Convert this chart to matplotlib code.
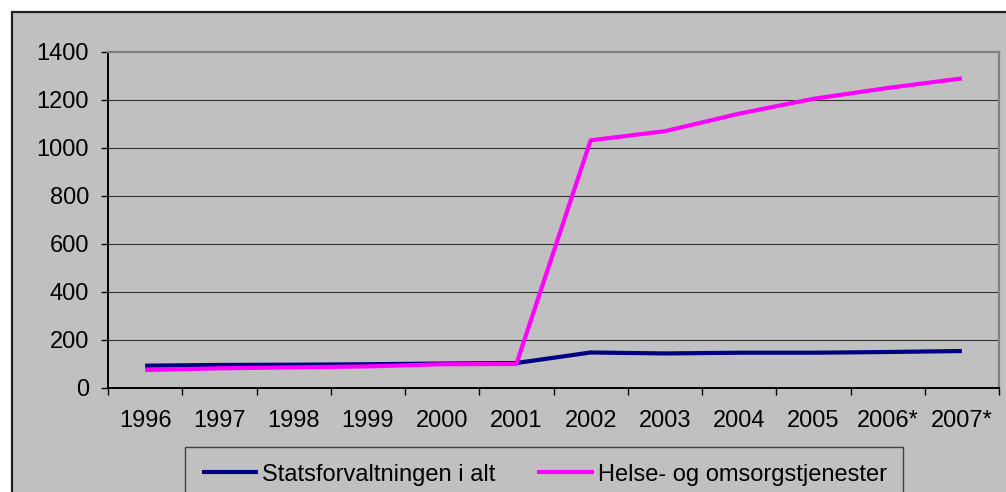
import matplotlib
matplotlib.use("Agg")
import matplotlib.pyplot as plt
from matplotlib.patches import Rectangle

years = ["1996", "1997", "1998", "1999", "2000", "2001",
         "2002", "2003", "2004", "2005", "2006*", "2007*"]
stats = [93, 96, 97, 99, 102, 104, 148, 144, 147, 147, 150, 154]
helse = [75, 82, 86, 90, 99, 100, 1032, 1070, 1143, 1205, 1250, 1290]
yticks = [0, 200, 400, 600, 800, 1000, 1200, 1400]

plt.rcParams['font.family'] = ['Liberation Sans', 'DejaVu Sans']
FS = 17

W, H = 1006, 492
fig = plt.figure(figsize=(W / 100, H / 100), dpi=100, facecolor='white')

# chart area background with border (extends beyond the image on right/bottom)
bg = Rectangle((12 / W, -0.2), 1.2, 1 - 12 / H + 0.2, transform=fig.transFigure,
               facecolor='#C0C0C0', edgecolor='#202020', linewidth=1.6, zorder=-5)
fig.patches.append(bg)

ax = fig.add_axes([108 / W, 1 - 388 / H, (999 - 108) / W, (388 - 52) / H])
ax.set_facecolor('#C0C0C0')

x = list(range(len(years)))
ax.plot(x, stats, color='#000080', lw=3, solid_capstyle='butt', zorder=3,
        label='Statsforvaltningen i alt')
ax.plot(x, helse, color='#FF00FF', lw=3, solid_capstyle='butt', zorder=4,
        label='Helse- og omsorgstjenester')

ax.set_xlim(-0.5, len(years) - 0.5)
ax.set_ylim(0, 1400)
ax.set_yticks(yticks)
ax.set_yticklabels([str(v) for v in yticks], fontsize=FS)

# category boundaries as major ticks, labels at centers via minor ticks
ax.set_xticks([i - 0.5 for i in range(len(years) + 1)])
ax.set_xticklabels([])
ax.set_xticks(x, minor=True)
ax.set_xticklabels(years, minor=True, fontsize=FS)
ax.tick_params(axis='x', which='major', length=5, width=1, color='black', direction='out')
ax.tick_params(axis='x', which='minor', length=0, pad=16)
ax.tick_params(axis='y', length=5, width=1, color='black', pad=8.6)

for v in yticks[1:-1]:
    ax.axhline(v, color='#333333', lw=0.8, zorder=1)

ax.spines['left'].set_color('black')
ax.spines['left'].set_linewidth(1.4)
ax.spines['bottom'].set_color('black')
ax.spines['bottom'].set_linewidth(1.4)
ax.spines['top'].set_color('#808080')
ax.spines['top'].set_linewidth(1.6)
ax.spines['right'].set_color('#808080')
ax.spines['right'].set_linewidth(1.6)

leg = fig.legend(loc='upper left', bbox_to_anchor=(185 / W, 1 - 447 / H),
                 borderaxespad=0, ncol=2, fontsize=FS, frameon=True,
                 fancybox=False, handlelength=2.4, handletextpad=0.17,
                 columnspacing=1.75, borderpad=0.7)
frame = leg.get_frame()
frame.set_facecolor('#C0C0C0')
frame.set_edgecolor('#404040')
frame.set_linewidth(1.0)
frame.set_alpha(1)

fig.savefig('out.png', dpi=100, facecolor='white')
